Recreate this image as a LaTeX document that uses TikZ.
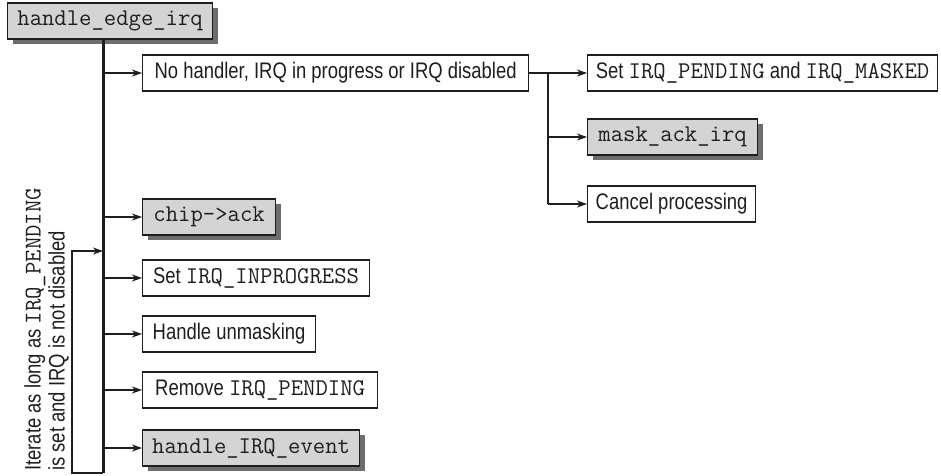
\documentclass[tikz,border=0pt]{standalone}
\usepackage{fontspec}
\setmainfont{Liberation Sans}[FakeStretch=0.82]
\usetikzlibrary{arrows.meta,shadows,calc}
\definecolor{boxgray}{HTML}{D4D4D4}
\definecolor{shadowgray}{HTML}{6E6E6E}
\definecolor{ink}{HTML}{1E1E1E}
\newcommand{\mn}[1]{{\ttfamily\fontsize{24}{24}\selectfont #1}}
\tikzset{
  plainbox/.style={draw=ink, line width=1.2pt, fill=white, anchor=west, minimum height=36pt,
    inner sep=0pt, text=ink, font=\fontsize{22.5}{24}\selectfont},
  codebox/.style={plainbox, fill=boxgray, drop shadow={shadow xshift=5pt, shadow yshift=-5pt, fill=shadowgray, opacity=1}},
  conn/.style={draw=ink, line width=1.2pt},
  arr/.style={conn, -{Stealth[length=10pt,width=7pt,inset=3pt]}},
  mainline/.style={draw=ink, line width=3pt},
  x=1pt, y=-1pt
}
\begin{document}
\begin{tikzpicture}
\useasboundingbox (0,0) rectangle (941,475);
% top node
\node[codebox, minimum width=205pt] (top) at (7,21) {\mn{handle\_edge\_irq}};
% left column
\node[plainbox, minimum width=386pt] (nohandler) at (142,73) {No handler, IRQ in progress or IRQ disabled};
\node[codebox, minimum width=133pt] (chip) at (142,217) {\mn{chip->ack}};
\node[plainbox, minimum width=227pt] (setinp) at (142,278) {Set \mn{IRQ\_INPROGRESS}};
\node[plainbox, minimum width=173pt] (unmask) at (142,334) {Handle unmasking};
\node[plainbox, minimum width=235pt] (remove) at (142,390) {Remove \mn{IRQ\_PENDING}};
\node[codebox, minimum width=217pt] (hirq) at (142,448) {\mn{handle\_IRQ\_event}};
% right column
\node[plainbox, minimum width=350pt] (setpend) at (587,73) {Set \mn{IRQ\_PENDING} and \mn{IRQ\_MASKED}};
\node[codebox, minimum width=170pt] (mask) at (587,137) {\mn{mask\_ack\_irq}};
\node[plainbox, minimum width=168pt] (cancel) at (587,204) {Cancel processing};
% main line
\coordinate (mbot) at (103,473);
\coordinate (loopb) at (72,473);
\coordinate (loopt) at (72,251);
\draw[mainline] (top.south -| mbot) -- (mbot);
\foreach \n in {nohandler,chip,setinp,unmask,remove,hirq}
  \draw[arr] (mbot |- \n.west) -- (\n.west);
% loop
\draw[arr] (mbot) -- (loopb) -- (loopt) -- (loopt -| mbot);
% branch
\coordinate (br) at (548,73);
\draw[conn] (nohandler.east) -- (br) -- (br |- cancel.west);
\foreach \n in {setpend,mask,cancel}
  \draw[arr] (br |- \n.west) -- (\n.west);
% rotated label
\node[rotate=90, anchor=north west, align=left, inner sep=0pt, text=ink,
  font=\fontsize{22.5}{24}\selectfont] (lbl) at (24,471)
  {Iterate as long as \mn{IRQ\_PENDING}\\is set and IRQ is not disabled};
\end{tikzpicture}
\end{document}
